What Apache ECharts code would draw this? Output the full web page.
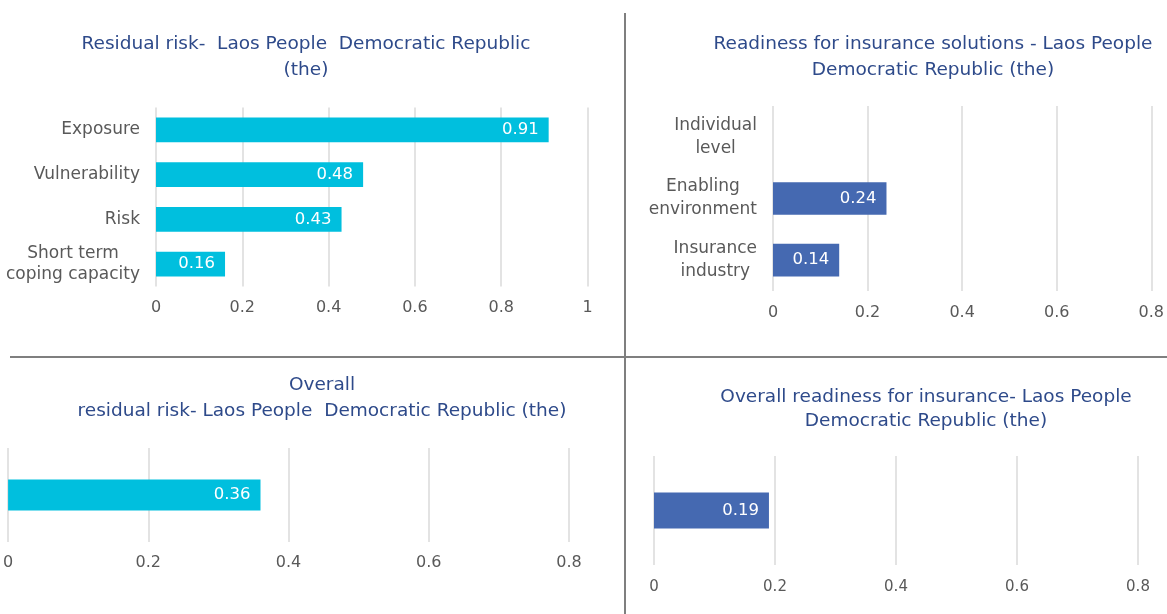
<!DOCTYPE html>
<html>
<head>
<meta charset="utf-8">
<style>
  html, body { margin: 0; padding: 0; background: #ffffff; }
  #chart { width: 1167px; height: 614px; }
</style>
<script src="https://cdn.jsdelivr.net/npm/echarts@6/dist/echarts.min.js"></script>
</head>
<body>
<div id="chart"></div>
<script>
// Residual risk components
const riskCategories = ['Exposure', 'Vulnerability', 'Risk', 'Short term\ncoping capacity'];
const riskValues = [0.91, 0.48, 0.43, 0.16];

// Readiness for insurance solutions components
const readinessCategories = ['Individual\nlevel', 'Enabling\nenvironment', 'Insurance\nindustry'];
const readinessValues = [null, 0.24, 0.14];

// Overall scores
const overallRiskValues = [0.36];
const overallReadinessValues = [0.19];

// Value axis ranges
const riskAxisMax = 1;
const readinessAxisMax = 0.8;
const tickStep = 0.2;

const FONT = 'DejaVu Sans';
const TITLE_COLOR = '#2E4A8A';
const LABEL_COLOR = '#595959';
const GRID_COLOR = '#E3E3E3';
const CYAN = '#00BFDE';
const BLUE = '#4569B1';

const chart = echarts.init(document.getElementById('chart'), null, { renderer: 'canvas' });

function titleItem(text, x, y, lineHeight) {
  return {
    text: text,
    left: x,
    top: y,
    padding: 0,
    textAlign: 'center',
    textStyle: {
      fontFamily: FONT,
      fontSize: 18.5,
      fontWeight: 'normal',
      color: TITLE_COLOR,
      lineHeight: lineHeight
    }
  };
}

function valueAxis(gridIndex, max, fontSize, margin) {
  return {
    type: 'value',
    gridIndex: gridIndex,
    min: 0,
    max: max,
    interval: tickStep,
    axisLine: { show: false },
    axisTick: { show: false },
    splitLine: { show: true, lineStyle: { color: GRID_COLOR, width: 2 } },
    axisLabel: { color: LABEL_COLOR, fontFamily: FONT, fontSize: fontSize, margin: margin }
  };
}

function categoryAxis(gridIndex, data, showLabels, lineHeight) {
  return {
    type: 'category',
    gridIndex: gridIndex,
    data: data,
    inverse: true,
    axisLine: { show: false },
    axisTick: { show: false },
    axisLabel: {
      show: showLabels,
      margin: 16,
      color: LABEL_COLOR,
      fontFamily: FONT,
      fontSize: 17,
      lineHeight: lineHeight,
      formatter: function (v) {
        return v.split('\n').map(function (line) { return '{c|' + line + '}'; }).join('\n');
      },
      rich: {
        c: { align: 'center', color: LABEL_COLOR, fontFamily: FONT, fontSize: 17, lineHeight: lineHeight }
      }
    }
  };
}

function barSeries(index, data, color, gap) {
  return {
    type: 'bar',
    xAxisIndex: index,
    yAxisIndex: index,
    data: data,
    barCategoryGap: gap,
    itemStyle: { color: color },
    label: {
      show: true,
      position: 'insideRight',
      distance: 10,
      color: '#ffffff',
      fontFamily: FONT,
      fontSize: 16.5,
      formatter: function (p) { return p.value == null ? '' : p.value.toFixed(2); }
    },
    silent: true,
    animation: false
  };
}

const option = {
  backgroundColor: '#ffffff',
  animation: false,
  title: [
    titleItem('Residual risk-  Laos People  Democratic Republic\n(the)', 306, 31, 26),
    titleItem('Readiness for insurance solutions - Laos People\nDemocratic Republic (the)', 933, 31, 26),
    titleItem('Overall\nresidual risk- Laos People  Democratic Republic (the)', 322, 372, 26),
    titleItem('Overall readiness for insurance- Laos People\nDemocratic Republic (the)', 926, 385, 24)
  ],
  grid: [
    { left: 156, top: 107.5, width: 431.5, height: 179 },
    { left: 773, top: 106, width: 380, height: 185 },
    { left: 8, top: 448, width: 561, height: 94 },
    { left: 654, top: 456, width: 484, height: 109 }
  ],
  xAxis: [
    valueAxis(0, riskAxisMax, 16, 13),
    valueAxis(1, readinessAxisMax, 16, 14),
    valueAxis(2, readinessAxisMax, 16, 13),
    valueAxis(3, readinessAxisMax, 15, 15)
  ],
  yAxis: [
    categoryAxis(0, riskCategories, true, 21),
    categoryAxis(1, readinessCategories, true, 23),
    categoryAxis(2, [''], false, 20),
    categoryAxis(3, [''], false, 20)
  ],
  series: [
    barSeries(0, riskValues, CYAN, '45%'),
    barSeries(1, readinessValues, BLUE, '47%'),
    barSeries(2, overallRiskValues, CYAN, '67%'),
    barSeries(3, overallReadinessValues, BLUE, '67%')
  ],
  graphic: [
    // panel dividers
    { type: 'line', silent: true, shape: { x1: 625, y1: 13, x2: 625, y2: 614 }, style: { stroke: '#7F7F7F', lineWidth: 2 } },
    { type: 'line', silent: true, shape: { x1: 10, y1: 357, x2: 1167, y2: 357 }, style: { stroke: '#7F7F7F', lineWidth: 2 } }
  ]
};

chart.setOption(option);
</script>
</body>
</html>
